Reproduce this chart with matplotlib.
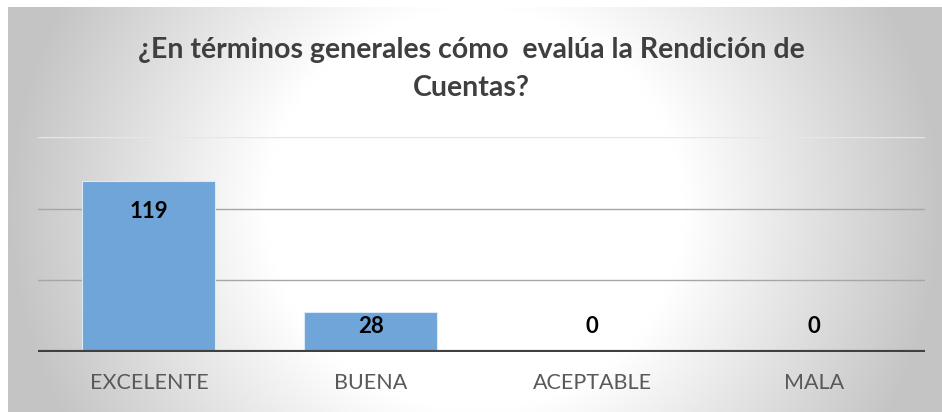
import matplotlib.pyplot as plt
import numpy as np

categories = ["EXCELENTE", "BUENA", "ACEPTABLE", "MALA"]
values = [119, 28, 0, 0]
gridlines = [50, 100, 150]
title = "¿En términos generales cómo  evalúa la Rendición de\nCuentas?"

plt.rcParams["font.family"] = ["Lato", "DejaVu Sans"]

W, H = 942, 412
fig = plt.figure(figsize=(W / 100, H / 100), dpi=100)

# background with a soft gradient (white centre, grey sides)
bg = fig.add_axes([8 / W, 0, 1 - 8 / W, 1 - 7 / H])
bg.set_axis_off()
xx, yy = np.meshgrid(np.linspace(-1, 1, 400), np.linspace(-1, 1, 200))
d = np.sqrt(xx ** 2 + (yy * 0.45) ** 2)
t = np.clip((d - 0.45) / 0.55, 0, 1)
shade = 1 - t * (1 - 0.77)
bg.imshow(np.dstack([shade, shade, shade]), aspect="auto", extent=[0, 1, 0, 1],
          interpolation="bilinear")

ax = fig.add_axes([38 / W, 1 - 352 / H, (925 - 38) / W, (352 - 137) / H])
ax.patch.set_alpha(0)
x = np.arange(len(categories))
ax.bar(x, values, width=0.6, color="#6fa5d8", edgecolor="#dce9f6", linewidth=0.8, zorder=3)
ax.set_xlim(-0.5, len(categories) - 0.5)
ax.set_ylim(0, 150)

for g in gridlines:
    ax.axhline(g, color="#e6e6e6" if g == 150 else "#a6a6a6", linewidth=1.0, zorder=1)
ax.axhline(0, color="#404040", linewidth=3, zorder=4)

for xi, v in zip(x, values):
    ax.text(xi, max(v - 21, 17.5), str(v), ha="center", va="center",
            fontsize=16, fontweight="bold", color="black", zorder=5)

for s in ax.spines.values():
    s.set_visible(False)
ax.set_yticks([])
ax.set_xticks(x)
ax.set_xticklabels(categories, fontsize=15.5, color="#595959")
ax.tick_params(axis="x", length=0, pad=15)

fig.text(0.5, 1 - 69 / H, title, ha="center", va="center", fontsize=20.5,
         fontweight="bold", color="#3f3f3f", linespacing=1.6)

fig.savefig("out.png", dpi=100)
